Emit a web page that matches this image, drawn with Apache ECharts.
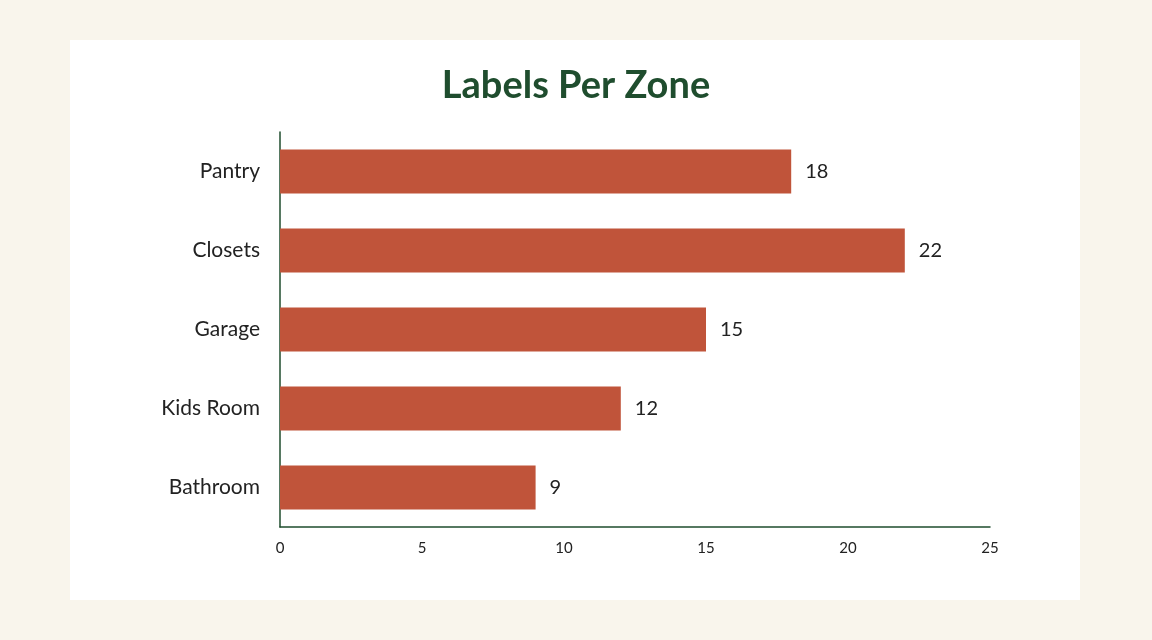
<!DOCTYPE html>
<html>
<head>
<meta charset="utf-8">
<script src="https://cdn.jsdelivr.net/npm/echarts@6/dist/echarts.min.js"></script>
<style>
  html, body { margin: 0; padding: 0; background: #f9f5ec; }
  #chart { width: 1152px; height: 640px; }
</style>
</head>
<body>
<div id="chart"></div>
<script>
// données
const zones = ['Pantry', 'Closets', 'Garage', 'Kids Room', 'Bathroom'];
const labelCounts = [18, 22, 15, 12, 9];

const chart = echarts.init(document.getElementById('chart'));

const options = {
    backgroundColor: '#f9f5ec',
    textStyle: { fontFamily: 'Lato, "Noto Sans", sans-serif' },
    graphic: [{
        type: 'rect',
        z: -10,
        shape: { x: 70, y: 40, width: 1010, height: 560 },
        style: { fill: '#ffffff' }
    }],
    title: {
        text: 'Labels Per Zone',
        left: 'center',
        top: 62,
        textStyle: { color: '#1f4d2e', fontSize: 38, fontWeight: 'bold', fontFamily: 'Lato, sans-serif' }
    },
    grid: { left: 280, right: 162, top: 132, bottom: 113 },
    xAxis: {
        type: 'value',
        min: 0,
        max: 25,
        interval: 5,
        axisLine: { show: true, lineStyle: { color: '#1f4d2e', width: 1.5 } },
        axisTick: { show: false },
        splitLine: { show: false },
        axisLabel: { color: '#222', fontSize: 15, margin: 14 }
    },
    yAxis: {
        type: 'category',
        inverse: true,
        data: zones,
        axisLine: { show: true, lineStyle: { color: '#1f4d2e', width: 1.5 } },
        axisTick: { show: false },
        axisLabel: { color: '#222', fontSize: 21, margin: 20 }
    },
    series: [{
        name: 'Labels',
        type: 'bar',
        data: labelCounts,
        barWidth: 44,
        itemStyle: { color: '#c0543a' },
        label: { show: true, position: 'right', distance: 14, color: '#222', fontSize: 20 }
    }]
};

chart.setOption(options);
</script>
</body>
</html>
